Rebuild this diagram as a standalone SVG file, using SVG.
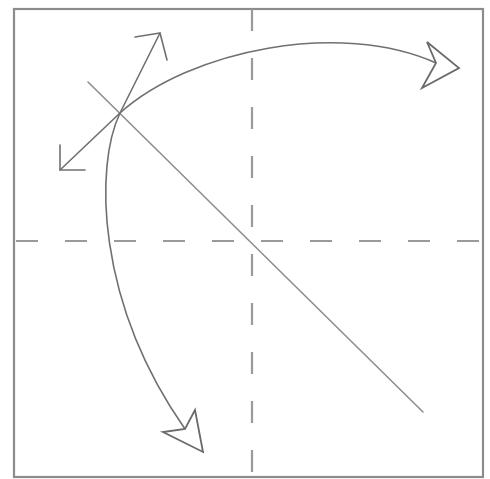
<svg xmlns="http://www.w3.org/2000/svg" width="490" height="479" viewBox="0 0 490 479">
<style>
.frame{fill:none;stroke:#8c8c8c;stroke-width:2.2}
.dash{fill:none;stroke:#9a9a9a;stroke-width:2.2;stroke-dasharray:22 27}
.line{fill:none;stroke:#707070;stroke-width:1.6;stroke-linecap:round;stroke-linejoin:round}
.diag{fill:none;stroke:#8e8e8e;stroke-width:1.6;stroke-linecap:round}
.head{fill:#fff;stroke:#6a6a6a;stroke-width:1.8;stroke-linejoin:miter}
</style>
<rect width="490" height="479" fill="#fff"/>
<g id="frame">
<rect class="frame" x="14" y="9" width="469" height="468"/>
</g>
<g id="guides">
<line class="dash" x1="14" y1="241" x2="483" y2="241" stroke-dashoffset="-2"/>
<line class="dash" x1="252" y1="9" x2="252" y2="477" stroke-dashoffset="0"/>
<line class="diag" x1="88" y1="82" x2="423" y2="412"/>
</g>
<g id="connectors">
<path class="line" d="M60,170 L120,113 C190,50 340,20 436,63"/>
<polyline class="line" points="60,145 60,170 85,170"/>
<polygon class="head" points="427,42 459,68 422,88 436,63"/>
<path class="line" d="M160,33 L120,113 C95,165 95,300 185,429"/>
<polyline class="line" points="135,37 160,33 167,60"/>
<polygon class="head" points="195,410 203,452 163,432 185,429"/>
</g>
</svg>
